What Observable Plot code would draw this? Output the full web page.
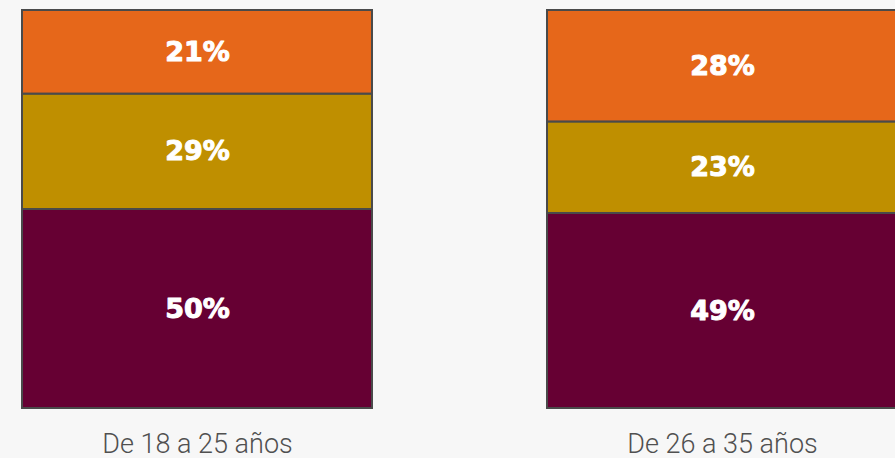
<!DOCTYPE html>
<html>
<head>
<meta charset="utf-8">
<script src="https://cdn.jsdelivr.net/npm/d3@7"></script>
<script src="https://cdn.jsdelivr.net/npm/@observablehq/plot@0.6"></script>
<style>
  html, body { margin: 0; padding: 0; background: #f7f7f7; overflow: hidden; }
  #chart svg { display: block; background: #f7f7f7; }
</style>
</head>
<body>
<div id="chart"></div>
<script>
// Age groups (x categories)
const groups = ["De 18 a 25 años", "De 26 a 35 años"];
// Segment names, bottom to top
const segments = ["Segmento 1", "Segmento 2", "Segmento 3"];
const segmentColors = ["#660033", "#bf8f00", "#e6671a"];
// Percent values per segment, per group
const seg1Values = [50, 49];
const seg2Values = [29, 23];
const seg3Values = [21, 28];

const seriesValues = [seg1Values, seg2Values, seg3Values];
const data = [];
segments.forEach((s, i) => {
  groups.forEach((g, j) => {
    data.push({group: g, segment: s, value: seriesValues[i][j]});
  });
});

const plot = Plot.plot({
  width: 895,
  height: 458,
  marginTop: 10,
  marginBottom: 50,
  marginLeft: 22,
  marginRight: 0,
  style: {background: "#f7f7f7", overflow: "visible"},
  x: {domain: groups, range: [22, 897], paddingInner: 1 / 3, paddingOuter: 0, label: null},
  y: {domain: [0, 100], axis: null},
  color: {domain: segments, range: segmentColors},
  marks: [
    Plot.barY(data, Plot.stackY({
      x: "group", y: "value", z: "segment", fill: "segment", order: null,
      stroke: "#4a4a4a", strokeWidth: 2
    })),
    Plot.text(data, Plot.stackY({
      x: "group", y: "value", z: "segment", order: null,
      text: d => d.value + "%",
      fill: "white", stroke: "white", strokeWidth: 1,
      fontSize: 27, fontWeight: "bold",
      fontFamily: "DejaVu Sans"
    })),
    Plot.axisX({
      tickSize: 0, tickPadding: 25, fontSize: 27,
      fontFamily: "Roboto", fontWeight: 300, color: "#505050", label: null
    })
  ]
});
document.getElementById("chart").appendChild(plot);
</script>
</body>
</html>
